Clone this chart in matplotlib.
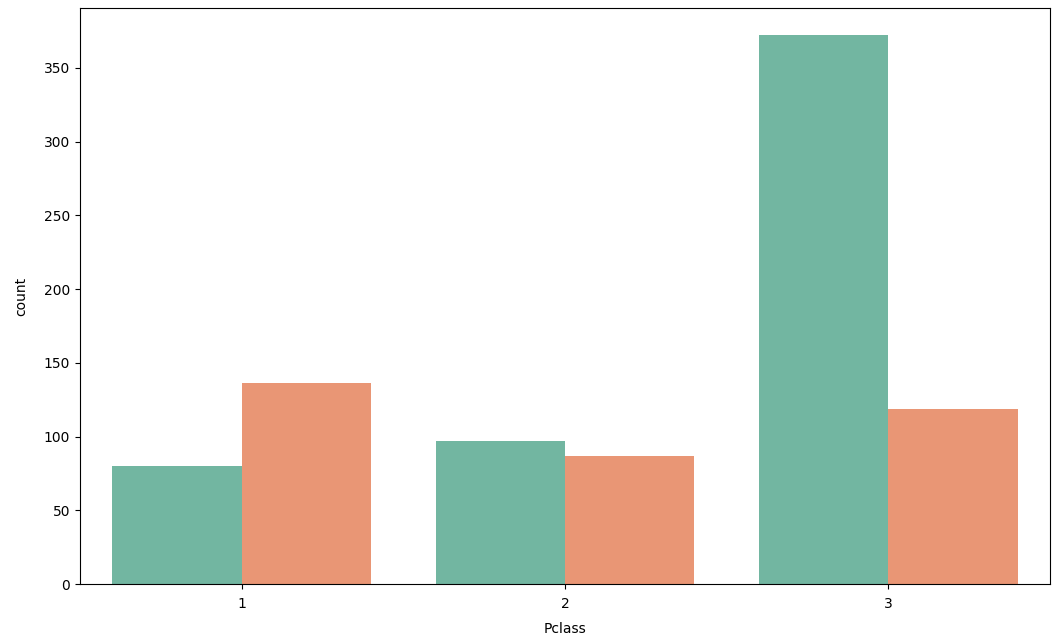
import matplotlib
matplotlib.use("Agg")
import matplotlib.pyplot as plt
import numpy as np
import seaborn as sns

categories = ["1", "2", "3"]
died = [80, 97, 372]
survived = [136, 87, 119]

colors = [sns.desaturate(c, 0.75) for c in sns.color_palette("Set2", 2)]

fig = plt.figure(figsize=(10.56, 6.38), dpi=100)
ax = fig.add_axes([80/1056, 1-584/638, 970/1056, 576/638])

x = np.arange(len(categories))
w = 0.4
ax.bar(x - w/2, died, width=w, color=colors[0])
ax.bar(x + w/2, survived, width=w, color=colors[1])
ax.set_xticks(x)
ax.set_xticklabels(categories)
ax.tick_params(axis="x", pad=6)
ax.set_xlim(-0.5, len(categories) - 0.5)
ax.set_xlabel("Pclass", labelpad=8)
ax.set_ylabel("count", labelpad=11)
fig.savefig("out.png", dpi=100)
